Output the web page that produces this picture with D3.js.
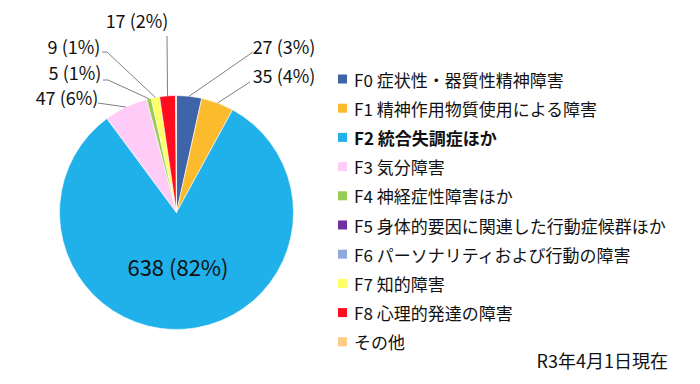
<!DOCTYPE html>
<html>
<head>
<meta charset="utf-8">
<script src="https://cdn.jsdelivr.net/npm/d3@7"></script>
<style>
  body { margin: 0; background: #fff; }
  text { font-family: "Noto Sans CJK JP", "Noto Sans", sans-serif; fill: #111; }
</style>
</head>
<body>
<div id="chart"></div>
<script>
// data
var categories = ["F0 症状性・器質性精神障害", "F1 精神作用物質使用による障害", "F2 統合失調症ほか",
  "F3 気分障害", "F4 神経症性障害ほか", "F5 身体的要因に関連した行動症候群ほか",
  "F6 パーソナリティおよび行動の障害", "F7 知的障害", "F8 心理的発達の障害", "その他"]
var counts = [27, 35, 638, 47, 5, 0, 0, 9, 17, 1]
var colors = ["#3F64A8", "#FBBB2D", "#20B0EA", "#FFCCF8", "#99CC55", "#7030A0", "#8FAADC", "#FFFF66", "#FF0D1F", "#FFCC88"]
var note = "R3年4月1日現在"

// label layout (text centre + where the leader line starts), null = no label
var labelPos = [
  {x: 284, y: 46, lx: 253, ly: 52},
  {x: 284, y: 75, lx: 250, ly: 82},
  {x: 178, y: 266},
  {x: 67, y: 97, lx: 98, ly: 103, elbow: 0},
  {x: 75, y: 72, lx: 103, ly: 80, elbow: 5},
  null,
  null,
  {x: 74, y: 46, lx: 102, ly: 52, elbow: 5},
  {x: 137, y: 20, lx: 167, ly: 36},
  null
]

var width = 700, height = 384
var cx = 176.5, cy = 212.5, radius = 117

var svg = d3.select("#chart").append("svg")
  .attr("width", width)
  .attr("height", height)

var total = d3.sum(counts)
var items = counts.map((v, i) => ({name: categories[i], value: v, color: colors[i], pos: labelPos[i], i: i}))

var pie = d3.pie().sort(null).value(d => d.value)
var arc = d3.arc().innerRadius(0).outerRadius(radius)
var arcs = pie(items)

var g = svg.append("g").attr("transform", `translate(${cx},${cy})`)

g.selectAll("path")
  .data(arcs.filter(d => d.data.value > 0))
  .enter()
  .append("path")
  .attr("d", arc)
  .attr("fill", d => d.data.color)
  .attr("stroke", "#fff")
  .attr("stroke-width", 0.6)

// leader lines
arcs.filter(d => d.data.pos && d.data.pos.lx != null).forEach(d => {
  var a = (d.startAngle + d.endAngle) / 2
  var ex = cx + radius * Math.sin(a), ey = cy - radius * Math.cos(a)
  var p = d.data.pos
  var pts = [[p.lx, p.ly]]
  if (p.elbow) pts.push([p.lx + p.elbow, p.ly])
  pts.push([ex, ey])
  svg.append("path")
    .attr("d", d3.line()(pts))
    .attr("fill", "none")
    .attr("stroke", "#808080")
    .attr("stroke-width", 1)
})

// labels
arcs.filter(d => d.data.pos).forEach(d => {
  var pct = Math.round(d.data.value / total * 100)
  svg.append("text")
    .attr("x", d.data.pos.x)
    .attr("y", d.data.pos.y)
    .attr("text-anchor", "middle")
    .attr("dominant-baseline", "central")
    .attr("font-size", d.data.i == 2 ? "22px" : "18px")
    .text(`${d.data.value} (${pct}%)`)
})

// legend
var legend = svg.append("g").attr("transform", "translate(338,79)")
var rows = legend.selectAll("g")
  .data(items)
  .enter()
  .append("g")
  .attr("transform", (d, i) => `translate(0,${i * 29.2})`)

rows.append("rect")
  .attr("x", 0)
  .attr("y", -4.5)
  .attr("width", 9)
  .attr("height", 9)
  .attr("fill", d => d.color)

rows.append("text")
  .attr("x", 16)
  .attr("y", 0)
  .attr("dominant-baseline", "central")
  .attr("font-size", "17px")
  .attr("font-weight", d => d.i == 2 ? "bold" : "normal")
  .text(d => d.name)

svg.append("text")
  .attr("x", 668)
  .attr("y", 360)
  .attr("text-anchor", "end")
  .attr("dominant-baseline", "central")
  .attr("font-size", "18px")
  .text(note)
</script>
</body>
</html>
